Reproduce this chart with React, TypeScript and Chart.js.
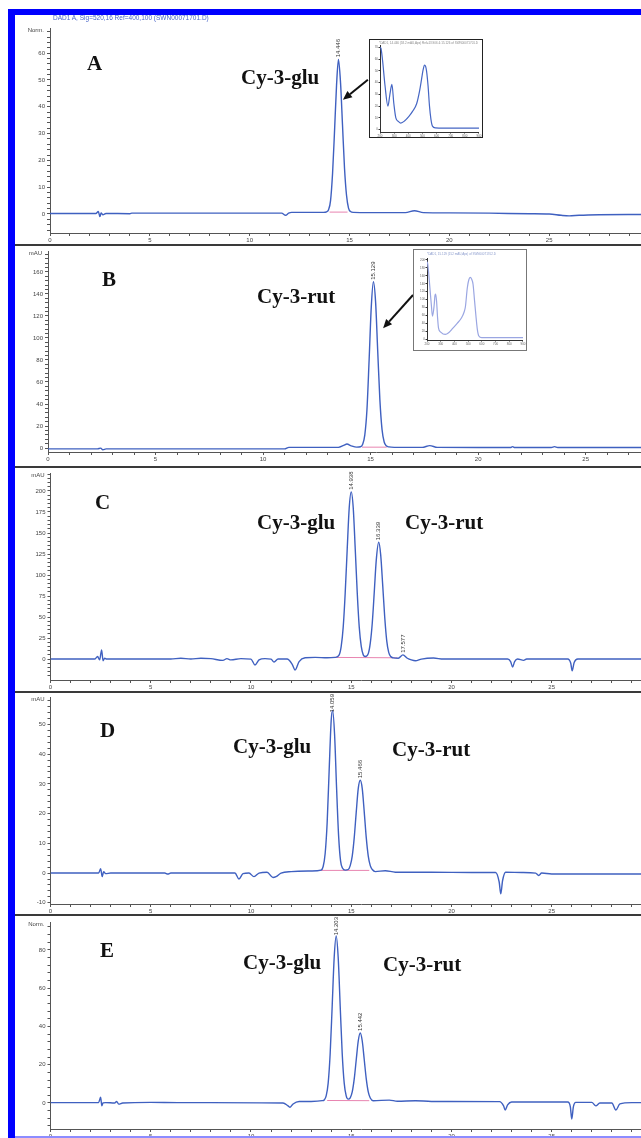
import React, { useEffect, useRef } from "react";
import { Chart, registerables } from "chart.js";

Chart.register(...registerables);

const FONT = "'Liberation Sans', Arial, sans-serif";
const SERIF = "'Liberation Serif', 'Times New Roman', serif";
const TRACE = "#3f60c0";
const PINK = "#e884b0";

// ---------- Panel A : Cy-3-glu standard (Norm.) ----------
const timesA = [0, 2.3, 2.42, 2.5, 2.56, 2.65, 2.8, 4.0, 4.1, 6, 8, 10, 11.6, 11.8, 11.95, 12.1, 13.0, 13.7, 13.85, 13.95, 14.05, 14.15, 14.25, 14.35, 14.446, 14.55, 14.65, 14.75, 14.85, 14.95, 15.05, 15.2, 16, 17.8, 18.25, 18.7, 20, 22, 24, 25, 25.6, 26, 26.5, 27.5, 29, 32];
const valuesA = [0.2, 0.2, 0.9, -1.0, 0.4, -0.3, 0.2, 0.1, 0.3, 0.3, 0.3, 0.3, 0.3, -0.5, 0.3, 0.6, 0.6, 0.6, 0.8, 1.6, 5, 15, 31, 48, 57.7, 49, 33, 17, 7, 2.2, 0.9, 0.6, 0.5, 0.5, 1.2, 0.5, 0.4, 0.3, 0.1, 0, -0.5, -0.7, -0.5, -0.3, -0.2, -0.2];
const pinkTimesA = [14.0, 14.9];
const pinkValuesA = [0.7, 0.7];
const peakTimesA = [14.446];
const peakHeightsA = [57.7];
const peakLabelsA = ["14.446"];
const arrowFromA = [15.92, 50.1];
const arrowToA = [14.67, 42.6];

// ---------- Panel B : Cy-3-rut standard (mAU) ----------
const timesB = [0, 2.3, 2.45, 2.55, 2.7, 11.0, 11.2, 13.5, 13.75, 13.9, 14.1, 14.35, 14.53, 14.63, 14.73, 14.83, 14.93, 15.03, 15.129, 15.23, 15.33, 15.43, 15.53, 15.63, 15.73, 15.85, 16.1, 17.4, 17.75, 18.1, 20, 21.5, 21.6, 21.7, 23.4, 23.55, 23.7, 26, 31];
const valuesB = [-0.8, -0.8, -0.1, -1.5, -0.8, -0.8, 0.6, 0.6, 2.5, 3.6, 2.0, 0.8, 1.2, 3.5, 12, 35, 80, 128, 151, 133, 88, 44, 17, 5.5, 2, 1, 0.6, 0.6, 2.2, 0.6, 0.5, 0.5, 1.3, 0.5, 0.5, 1.3, 0.5, 0.5, 0.5];
const pinkTimesB = [14.6, 15.75];
const pinkValuesB = [0.8, 0.8];
const peakTimesB = [15.129];
const peakHeightsB = [151];
const peakLabelsB = ["15.129"];
const arrowFromB = [16.97, 139];
const arrowToB = [15.58, 108.8];

// ---------- Panel C : standard mixture (mAU) ----------
const timesC = [0, 2.2, 2.35, 2.45, 2.55, 2.62, 2.7, 2.8, 3.5, 6, 6.5, 7, 7.5, 8, 8.6, 8.8, 9.0, 9.5, 10.0, 10.2, 10.4, 10.7, 11.0, 11.15, 11.35, 11.8, 12.05, 12.2, 12.4, 12.7, 13.2, 13.8, 14.2, 14.4, 14.5, 14.6, 14.7, 14.8, 14.9, 15.0, 15.1, 15.2, 15.3, 15.4, 15.5, 15.6, 15.7, 15.85, 15.95, 16.05, 16.15, 16.25, 16.37, 16.47, 16.57, 16.67, 16.77, 16.87, 16.97, 17.1, 17.35, 17.58, 17.8, 18.0, 18.2, 18.5, 19.1, 19.6, 20.5, 22.8, 22.95, 23.05, 23.15, 23.3, 23.6, 23.75, 24, 25.8, 25.95, 26.02, 26.12, 26.3, 32];
const valuesC = [0, 0, 3, -1, 11, -2, 1, 0, 0, 0, 1, 0, 1, 0.5, -1.5, 0.5, -1, 0.5, 0, -7, -1, 0.5, 0, -3.5, 0, 0, -6, -13, -3, 1.5, 2, 1.5, 2, 5, 15, 38, 79, 131, 180, 199, 180, 131, 79, 38, 15, 5, 3, 6.5, 19, 43, 80, 118, 139, 124, 88, 50, 22, 8, 3, 1.5, 1, 5, 1, -1, -2, 0, 1.2, 0, 0, 0, -3, -9.5, -3, 0, -1.5, 0, 0, 0, -5, -14, -4, 0, 0];
const pinkTimesC = [14.0, 17.3];
const pinkValuesC = [2, 1.5];
const peakTimesC = [15.0, 16.37, 17.58];
const peakHeightsC = [199, 139, 5];
const peakLabelsC = ["14.938", "16.339", "17.577"];

// ---------- Panel D : sample (mAU) ----------
const timesD = [0, 2.4, 2.5, 2.58, 2.65, 2.75, 3.0, 5.7, 5.85, 6.0, 9.2, 9.4, 9.6, 9.9, 10.15, 10.4, 10.8, 11.1, 11.25, 11.5, 12, 13.0, 13.5, 13.6, 13.7, 13.8, 13.9, 14.0, 14.07, 14.17, 14.27, 14.37, 14.47, 14.57, 14.7, 14.85, 14.95, 15.05, 15.15, 15.25, 15.35, 15.45, 15.55, 15.65, 15.75, 15.85, 15.95, 16.05, 16.2, 16.7, 17.2, 19, 21, 22.2, 22.38, 22.46, 22.55, 22.7, 23.5, 24.2, 24.35, 24.5, 25, 27, 32];
const valuesD = [0, 0, 1.5, -1.2, 0.5, -0.2, 0, 0, -0.3, 0, 0, -2, -0.2, 0, -1.2, 0, 0.3, -1.5, -1.2, 0, 0.5, 0.7, 1, 2.2, 6.6, 17, 34.7, 51.2, 54.7, 46.6, 28.5, 12.6, 4, 1.6, 1, 1.2, 2.5, 5.7, 11.9, 20.5, 28.4, 31.2, 28.4, 20.5, 11.9, 5.7, 2.5, 1.2, 0.5, 0.8, 0.3, 0.3, 0.2, 0.2, -3, -7, -2.5, 0.3, 0.2, 0, -0.8, 0, -0.3, -0.3, -0.3];
const pinkTimesD = [13.4, 15.9];
const pinkValuesD = [0.9, 0.9];
const peakTimesD = [14.07, 15.45];
const peakHeightsD = [54.7, 31.2];
const peakLabelsD = ["14.059", "15.466"];

// ---------- Panel E : sample (Norm.) ----------
const timesE = [0, 2.4, 2.5, 2.56, 2.62, 2.75, 3.2, 3.3, 3.4, 3.6, 5.0, 6.35, 8, 11.6, 11.85, 11.95, 12.1, 12.4, 13.0, 13.55, 13.65, 13.75, 13.85, 13.95, 14.05, 14.15, 14.25, 14.35, 14.45, 14.55, 14.65, 14.75, 14.85, 14.95, 15.05, 15.15, 15.25, 15.35, 15.45, 15.55, 15.65, 15.75, 15.85, 15.95, 16.1, 16.9, 17.3, 18.2, 19, 22.4, 22.6, 22.68, 22.8, 23.0, 25.8, 25.93, 26.0, 26.08, 26.2, 27.0, 27.2, 27.4, 28.0, 28.2, 28.4, 29, 32];
const valuesE = [0.2, 0.2, 3, -1.5, 0, 0.2, 0, 0.8, -0.6, 0, 0.3, 0.2, 0.2, 0, -1.5, -2.2, -0.5, 0.8, 0.8, 1.2, 1.6, 3.7, 10.4, 25.9, 50.6, 76, 87.3, 76, 50.6, 25.9, 10.4, 3.7, 2.0, 2.7, 5.8, 12.6, 22.6, 32.4, 36.6, 32.4, 22.6, 12.6, 5.8, 2.6, 1.2, 1.5, 0.9, 1.2, 0.8, 0.7, -1.5, -3.7, -1, 0.5, 0.5, -2, -8.4, -2, 0.3, 0.3, -1.5, 0, 0, -3.7, -0.5, 0.2, 0.2];
const pinkTimesE = [13.8, 15.9];
const pinkValuesE = [1.3, 1.2];
const peakTimesE = [14.25, 15.45];
const peakHeightsE = [87.3, 36.6];
const peakLabelsE = ["14.203", "15.442"];

// ---------- Inset UV-Vis spectra ----------
const insetWavelengthsA = [200, 207, 218, 235, 256, 270, 284, 298, 312, 330, 347, 375, 403, 430, 459, 480, 494, 505, 515, 522, 529, 540, 550, 560, 571, 592, 650, 750, 900];
const insetAbsA = [70, 69, 59, 38, 20, 30, 38.5, 22, 10, 7, 5.6, 7.5, 11, 15.5, 22, 33, 43, 51, 55, 54, 50, 37, 20, 9, 3, 1.5, 1.3, 1.3, 1.3];
const insetWavelengthsB = [200, 205, 214, 223, 232, 240, 252, 258, 263, 270, 277, 284, 300, 333, 360, 389, 420, 452, 470, 480, 494, 505, 515, 525, 536, 546, 557, 567, 578, 599, 700, 900];
const insetAbsB = [196, 190, 160, 122, 85, 58, 85, 110, 114, 95, 55, 28, 18, 12, 17, 28, 40, 54, 68, 82, 130, 150, 156, 152, 138, 100, 58, 25, 8, 4, 4, 4];

type Arrow = { from: number[]; to: number[] };

interface PanelCfg {
  top: number; height: number; canvasW: number; yw: number; padTop: number; xh: number;
  xMax: number; yMin: number; yMax: number; yStep: number; yEvery: number; unit: string;
  times: number[]; values: number[]; pinkT: number[]; pinkV: number[];
  peakT: number[]; peakV: number[]; peakText: string[]; arrows: Arrow[];
}

const panels: PanelCfg[] = [
  { top: 15, height: 230, canvasW: 655, yw: 35, padTop: 13, xh: 12, xMax: 31, yMin: -7.1, yMax: 69.4, yStep: 2, yEvery: 10, unit: "Norm.",
    times: timesA, values: valuesA, pinkT: pinkTimesA, pinkV: pinkValuesA, peakT: peakTimesA, peakV: peakHeightsA, peakText: peakLabelsA,
    arrows: [{ from: arrowFromA, to: arrowToA }] },
  { top: 245, height: 222, canvasW: 689, yw: 33, padTop: 6, xh: 15, xMax: 30.5, yMin: -3.6, yMax: 179, yStep: 4, yEvery: 20, unit: "mAU",
    times: timesB, values: valuesB, pinkT: pinkTimesB, pinkV: pinkValuesB, peakT: peakTimesB, peakV: peakHeightsB, peakText: peakLabelsB,
    arrows: [{ from: arrowFromB, to: arrowToB }] },
  { top: 467, height: 225, canvasW: 658, yw: 35.5, padTop: 6, xh: 12, xMax: 31, yMin: -24.9, yMax: 221.4, yStep: 5, yEvery: 25, unit: "mAU",
    times: timesC, values: valuesC, pinkT: pinkTimesC, pinkV: pinkValuesC, peakT: peakTimesC, peakV: peakHeightsC, peakText: peakLabelsC, arrows: [] },
  { top: 692, height: 223, canvasW: 658, yw: 35.5, padTop: 5, xh: 11, xMax: 31, yMin: -10.4, yMax: 59, yStep: 2, yEvery: 10, unit: "mAU",
    times: timesD, values: valuesD, pinkT: pinkTimesD, pinkV: pinkValuesD, peakT: peakTimesD, peakV: peakHeightsD, peakText: peakLabelsD, arrows: [] },
  { top: 915, height: 223, canvasW: 658, yw: 35.5, padTop: 7, xh: 9, xMax: 31, yMin: -13.6, yMax: 94.6, yStep: 4, yEvery: 20, unit: "Norm.",
    times: timesE, values: valuesE, pinkT: pinkTimesE, pinkV: pinkValuesE, peakT: peakTimesE, peakV: peakHeightsE, peakText: peakLabelsE, arrows: [] },
];

const toXY = (t: number[], v: number[]) => t.map((x, i) => ({ x, y: v[i] }));

const makeLabel = (every: number) => (v: number | string) => {
  const n = Number(v);
  const r = Math.round(n);
  return Math.abs(n - r) < 1e-6 && r % every === 0 ? String(r) : "";
};

function drawArrow(ctx: CanvasRenderingContext2D, x1: number, y1: number, x2: number, y2: number) {
  const ang = Math.atan2(y2 - y1, x2 - x1);
  const hl = 9, hw = 4;
  const bx = x2 - hl * Math.cos(ang), by = y2 - hl * Math.sin(ang);
  ctx.strokeStyle = "#111";
  ctx.fillStyle = "#111";
  ctx.lineWidth = 2;
  ctx.beginPath();
  ctx.moveTo(x1, y1);
  ctx.lineTo(bx, by);
  ctx.stroke();
  ctx.beginPath();
  ctx.moveTo(x2, y2);
  ctx.lineTo(bx + hw * Math.sin(ang), by - hw * Math.cos(ang));
  ctx.lineTo(bx - hw * Math.sin(ang), by + hw * Math.cos(ang));
  ctx.closePath();
  ctx.fill();
}

function Panel({ p }: { p: PanelCfg }) {
  const ref = useRef<HTMLCanvasElement>(null);
  useEffect(() => {
    if (!ref.current) return;
    const annot = {
      id: "annot",
      afterDatasetsDraw(chart: any) {
        const { ctx, chartArea, scales } = chart;
        const xs = scales.x, ys = scales.y;
        ctx.save();
        ctx.font = `6px ${FONT}`;
        ctx.fillStyle = "#444";
        ctx.textAlign = "right";
        ctx.textBaseline = "middle";
        ctx.fillText(p.unit, chartArea.left - 6, chartArea.top + 2);
        p.peakT.forEach((t, i) => {
          const px = xs.getPixelForValue(t);
          const py = ys.getPixelForValue(p.peakV[i]);
          ctx.font = `6px ${FONT}`;
          const tw = ctx.measureText(p.peakText[i]).width;
          const start = Math.max(py - 2, tw + 2);
          ctx.save();
          ctx.translate(px, start);
          ctx.rotate(-Math.PI / 2);
          ctx.textAlign = "left";
          ctx.textBaseline = "middle";
          ctx.fillStyle = "#333";
          ctx.fillText(p.peakText[i], 0, 0);
          ctx.restore();
        });
        p.arrows.forEach((a) => {
          drawArrow(ctx, xs.getPixelForValue(a.from[0]), ys.getPixelForValue(a.from[1]), xs.getPixelForValue(a.to[0]), ys.getPixelForValue(a.to[1]));
        });
        ctx.restore();
      },
    };
    const tickFont = { size: 6, family: FONT };
    const chart = new Chart(ref.current, {
      type: "line",
      data: {
        datasets: [
          { data: toXY(p.times, p.values), borderColor: TRACE, borderWidth: 1.4, pointRadius: 0, cubicInterpolationMode: "monotone" } as any,
          { data: toXY(p.pinkT, p.pinkV), borderColor: PINK, borderWidth: 1, pointRadius: 0, tension: 0 } as any,
        ],
      },
      options: {
        animation: false,
        responsive: false,
        maintainAspectRatio: false,
        events: [],
        layout: { padding: { top: p.padTop, left: 0, right: 0, bottom: 0 } },
        plugins: { legend: { display: false }, tooltip: { enabled: false } },
        scales: {
          x: {
            type: "linear", min: 0, max: p.xMax,
            afterFit: (s: any) => { s.height = p.xh; },
            border: { color: "#555", width: 1 },
            grid: { drawOnChartArea: false, tickLength: 3, color: "#555" },
            ticks: { stepSize: 1, autoSkip: false, includeBounds: false, maxRotation: 0, minRotation: 0, padding: 1, font: tickFont, color: "#444", callback: makeLabel(5) },
          },
          y: {
            type: "linear", min: p.yMin, max: p.yMax,
            afterFit: (s: any) => { s.width = p.yw; },
            border: { color: "#555", width: 1 },
            grid: { drawOnChartArea: false, tickLength: 3, color: "#555" },
            ticks: { stepSize: p.yStep, autoSkip: false, includeBounds: false, padding: 2, font: tickFont, color: "#444", callback: makeLabel(p.yEvery) },
          },
        },
      } as any,
      plugins: [annot],
    });
    return () => chart.destroy();
  }, []);
  return (
    <canvas ref={ref} width={p.canvasW} height={p.height}
      style={{ position: "absolute", left: 15, top: p.top, width: p.canvasW, height: p.height }} />
  );
}

interface InsetCfg {
  left: number; top: number; w: number; h: number; border: number; borderColor: string;
  wl: number[]; ab: number[]; color: string; yMin: number; yMax: number; yStep: number;
  yw: number; padTop: number; xh: number; header: string; headerColor: string; headerLeft: number; headerTop: number;
}

const insets: InsetCfg[] = [
  { left: 369, top: 39, w: 115, h: 100, border: 1.5, borderColor: "#222", wl: insetWavelengthsA, ab: insetAbsA, color: "#4566c4",
    yMin: -2, yMax: 72, yStep: 10, yw: 10, padTop: 5, xh: 5,
    header: "*DAD1, 14.446 (58.2 mAU,Apx) Ref=13.906 & 15.126 of SWN00071701.D", headerColor: "#8a8a8a", headerLeft: 9, headerTop: 0.5 },
  { left: 413, top: 249, w: 114, h: 102, border: 1, borderColor: "#777", wl: insetWavelengthsB, ab: insetAbsB, color: "#9aa6e2",
    yMin: -2, yMax: 205, yStep: 20, yw: 13, padTop: 8, xh: 10,
    header: "*DAD1, 15.129 (152 mAU,Apx) of SWN00071702.D", headerColor: "#8899cc", headerLeft: 13, headerTop: 1.5 },
];

function Inset({ c }: { c: InsetCfg }) {
  const ref = useRef<HTMLCanvasElement>(null);
  const cw = Math.round(c.w - 2 * c.border);
  const ch = Math.round(c.h - 2 * c.border);
  useEffect(() => {
    if (!ref.current) return;
    const f = { size: 3, family: FONT };
    const chart = new Chart(ref.current, {
      type: "line",
      data: { datasets: [{ data: toXY(c.wl, c.ab), borderColor: c.color, borderWidth: 1.2, pointRadius: 0, cubicInterpolationMode: "monotone" } as any] },
      options: {
        animation: false, responsive: false, maintainAspectRatio: false, events: [],
        layout: { padding: { top: c.padTop, left: 0, right: 0, bottom: 0 } },
        plugins: { legend: { display: false }, tooltip: { enabled: false } },
        scales: {
          x: {
            type: "linear", min: 200, max: 900,
            afterFit: (s: any) => { s.height = c.xh; },
            border: { color: "#333", width: 1 },
            grid: { drawOnChartArea: false, tickLength: 1.5, color: "#333" },
            ticks: { stepSize: 100, autoSkip: false, includeBounds: false, maxRotation: 0, padding: 0.5, font: f, color: "#666" },
          },
          y: {
            type: "linear", min: c.yMin, max: c.yMax,
            afterFit: (s: any) => { s.width = c.yw; },
            border: { color: "#333", width: 1 },
            grid: { drawOnChartArea: false, tickLength: 1.5, color: "#333" },
            ticks: { stepSize: c.yStep, autoSkip: false, includeBounds: false, padding: 0.5, font: f, color: "#666" },
          },
        },
      } as any,
    });
    return () => chart.destroy();
  }, []);
  return (
    <div style={{ position: "absolute", left: c.left, top: c.top, width: c.w - 2 * c.border, height: c.h - 2 * c.border, border: `${c.border}px solid ${c.borderColor}`, background: "#fff", overflow: "hidden" }}>
      <canvas ref={ref} width={cw} height={ch} style={{ position: "absolute", left: 0, top: 0, width: cw, height: ch }} />
      <div style={{ position: "absolute", left: c.headerLeft, top: c.headerTop, fontFamily: FONT, fontSize: 3, lineHeight: "4px", color: c.headerColor, whiteSpace: "nowrap" }}>{c.header}</div>
    </div>
  );
}

const labelTexts = [
  { text: "A", left: 87, cy: 64 }, { text: "Cy-3-glu", left: 241, cy: 77.5 },
  { text: "B", left: 102, cy: 280 }, { text: "Cy-3-rut", left: 257, cy: 297 },
  { text: "C", left: 95, cy: 503 }, { text: "Cy-3-glu", left: 257, cy: 523 }, { text: "Cy-3-rut", left: 405, cy: 523 },
  { text: "D", left: 100, cy: 731 }, { text: "Cy-3-glu", left: 233, cy: 747 }, { text: "Cy-3-rut", left: 392, cy: 750 },
  { text: "E", left: 100, cy: 951 }, { text: "Cy-3-glu", left: 243, cy: 963 }, { text: "Cy-3-rut", left: 383, cy: 965 },
];

const separators = [245, 467, 692, 915];

export default function App() {
  return (
    <div style={{ position: "absolute", left: 0, top: 0, width: 641, height: 1138, overflow: "hidden", background: "#fff" }}>
      {panels.map((p, i) => <Panel key={i} p={p} />)}
      {separators.map((y, i) => (
        <div key={"s" + i} style={{ position: "absolute", left: 15, top: y - 0.75, width: 626, height: 1.5, background: "#3a3a3a" }} />
      ))}
      {insets.map((c, i) => <Inset key={"i" + i} c={c} />)}
      {labelTexts.map((l, i) => (
        <div key={"l" + i} style={{ position: "absolute", left: l.left, top: l.cy - 10.7, fontFamily: SERIF, fontWeight: "bold", fontSize: 21, lineHeight: "21px", color: "#111", whiteSpace: "nowrap" }}>{l.text}</div>
      ))}
      <div style={{ position: "absolute", left: 8, top: 9, width: 633, height: 6, background: "#0000ff" }} />
      <div style={{ position: "absolute", left: 8, top: 9, width: 7, height: 1129, background: "#0000ff" }} />
      <div style={{ position: "absolute", left: 15, top: 1136, width: 626, height: 2, background: "#8c8cff" }} />
      <div style={{ position: "absolute", left: 53, top: 14, fontFamily: FONT, fontSize: 6.5, lineHeight: "7px", color: "#4a66c8", whiteSpace: "nowrap" }}>
        DAD1 A, Sig=520,16 Ref=400,100 (SWN00071701.D)
      </div>
    </div>
  );
}
